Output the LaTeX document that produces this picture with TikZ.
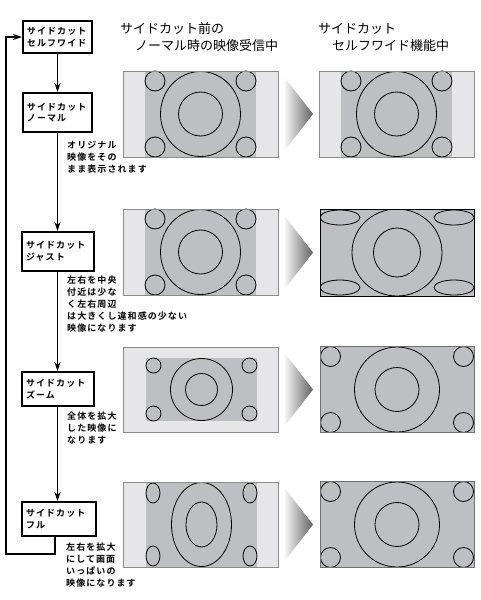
\documentclass[tikz,border=0pt]{standalone}
\usepackage{fontspec}
\setmainfont{Noto Sans CJK JP}[BoldFont={Noto Sans CJK JP Bold}]
\newfontfamily\spacedbold{Noto Sans CJK JP Bold}[LetterSpace=12]
\usetikzlibrary{arrows.meta}
\definecolor{scrlight}{RGB}{230,230,232}
\definecolor{scrgray}{RGB}{190,191,194}
\definecolor{scredge}{RGB}{140,140,140}
\tikzset{
  ring/.style={draw=black, line width=0.8pt},
  stepbox/.style={draw, line width=2pt, inner xsep=4pt, inner ysep=0pt, align=left,
    font=\spacedbold\fontsize{9}{11.5}\selectfont},
  conn/.style={line width=1.2pt},
  arr/.style={conn, -{Stealth[length=9pt,width=6pt]}},
  note/.style={anchor=north west, inner sep=0pt, align=left,
    font=\spacedbold\fontsize{9}{11.8}\selectfont},
  title/.style={anchor=base west, inner sep=0pt, font=\fontsize{13}{15}\selectfont},
  wedge/.style={left color=white!96!black, right color=black!62}
}
% pillar-box 4:3 picture
\newcommand\scrNormal[3]{%
\begin{scope}[shift={(#1,#2)}]
\fill[scrlight] (0,0) rectangle (155,86);
\fill[scrgray] (22,0) rectangle (133,86);
\draw[ring] (77.5,43) ellipse [x radius=40pt, y radius=42.5pt];
\draw[ring] (77.5,43) circle [radius=22pt];
\draw[ring] (32,10) circle [radius=10pt];
\draw[ring] (123,10) circle [radius=10pt];
\draw[ring] (32,76) circle [radius=10pt];
\draw[ring] (123,76) circle [radius=10pt];
\draw[draw=#3, line width=1pt] (0,0) rectangle (155,86);
\end{scope}}
% just: stretched sides
\newcommand\scrJust[2]{%
\begin{scope}[shift={(#1,#2)}]
\fill[scrgray] (0,0) rectangle (154,87);
\begin{scope}
\clip (0,0) rectangle (154,87);
\draw[ring] (77,43.5) ellipse [x radius=45pt, y radius=43.5pt];
\draw[ring] (77,43.5) ellipse [x radius=23.5pt, y radius=24.5pt];
\draw[ring] (20,8.5) ellipse [x radius=20pt, y radius=7.5pt];
\draw[ring] (134,8.5) ellipse [x radius=20pt, y radius=7.5pt];
\draw[ring] (20,78.5) ellipse [x radius=20pt, y radius=7.5pt];
\draw[ring] (134,78.5) ellipse [x radius=20pt, y radius=7.5pt];
\end{scope}
\draw[black, line width=1pt] (0,0) rectangle (154,87);
\end{scope}}
% letter/window boxed small picture
\newcommand\scrZoom[2]{%
\begin{scope}[shift={(#1,#2)}]
\fill[scrlight] (0,0) rectangle (155,85);
\fill[scrgray] (23,11) rectangle (134,74);
\draw[ring] (78.5,42.5) circle [radius=31pt];
\draw[ring] (78.5,42.5) circle [radius=16pt];
\draw[ring] (30.5,18.5) circle [radius=7.5pt];
\draw[ring] (126.5,18.5) circle [radius=7.5pt];
\draw[ring] (30.5,66.5) circle [radius=7.5pt];
\draw[ring] (126.5,66.5) circle [radius=7.5pt];
\draw[draw=scredge, line width=1pt] (0,0) rectangle (155,85);
\end{scope}}
% full-screen result
\newcommand\scrFull[2]{%
\begin{scope}[shift={(#1,#2)}]
\fill[scrgray] (0,0) rectangle (154,86);
\draw[ring] (77,43) circle [radius=42.5pt];
\draw[ring] (77,43) circle [radius=22pt];
\draw[ring] (10.5,10) circle [radius=10pt];
\draw[ring] (143.5,10) circle [radius=10pt];
\draw[ring] (10.5,76) circle [radius=10pt];
\draw[ring] (143.5,76) circle [radius=10pt];
\draw[draw=scredge!80!black, line width=1pt] (0,0) rectangle (154,86);
\end{scope}}
% squeezed (tall) picture
\newcommand\scrTall[2]{%
\begin{scope}[shift={(#1,#2)}]
\fill[scrlight] (0,0) rectangle (155,85);
\fill[scrgray] (23,0) rectangle (134,85);
\draw[ring] (78.5,42.5) ellipse [x radius=30pt, y radius=42pt];
\draw[ring] (78.5,42.5) ellipse [x radius=15.5pt, y radius=22.5pt];
\draw[ring] (30,11) ellipse [x radius=7pt, y radius=10pt];
\draw[ring] (127,11) ellipse [x radius=7pt, y radius=10pt];
\draw[ring] (30,74) ellipse [x radius=7pt, y radius=10pt];
\draw[ring] (127,74) ellipse [x radius=7pt, y radius=10pt];
\draw[draw=scredge, line width=1pt] (0,0) rectangle (155,85);
\end{scope}}
\newcommand\wedgeAt[1]{%
\shade[wedge] (285,#1-36) -- (313,#1) -- (285,#1+36) -- cycle;}

\begin{document}
\begin{tikzpicture}[x=1pt, y=-1pt]
\useasboundingbox (0,0) rectangle (480,600);
\fill[white] (0,0) rectangle (480,600);

% titles
\node[title] (t1) at (120,33) {サイドカット前の};
\node[title] (t2) at (135,50) {ノーマル時の映像受信中};
\node[title] (t3) at (318,33) {サイドカット};
\node[title] (t4) at (332,50) {セルフワイド機能中};

% mode boxes
\node[stepbox, text width=61pt, minimum height=32pt] (b1) at (57.5,37) {サイドカット\\セルフワイド};
\node[stepbox, text width=61pt, minimum height=39pt] (b2) at (57.5,112.5) {サイドカット\\ノーマル};
\node[stepbox, text width=64pt, minimum height=39pt] (b3) at (58,251.5) {サイドカット\\ジャスト};
\node[stepbox, text width=64pt, minimum height=34pt] (b4) at (58,389) {サイドカット\\ズーム};
\node[stepbox, text width=66pt, minimum height=34pt] (b5) at (59,519) {サイドカット\\フル};

% connectors
\draw[arr] (b1.south) -- (b1.south |- b2.north);
\draw[arr] (b2.south) -- (b2.south |- b3.north);
\draw[arr] (b3.south -| b2.south) -- (b2.south |- b4.north);
\draw[arr] (b4.south -| b2.south) -- (b2.south |- b5.north);
\coordinate (fbA) at (55,554);
\coordinate (fbB) at (6,554);
\draw[arr] (b5.south -| fbA) -- (fbA) -- (fbB) |- (b1.west);

% notes
\node[note] (n1) at (67,141) {オリジナル\\映像をその\\まま表示されます};
\node[note] (n2) at (67,276) {左右を中央\\付近は少な\\く左右周辺\\は大きくし違和感の少ない\\映像になります};
\node[note] (n3) at (67,412) {全体を拡大\\した映像に\\なります};
\node[note] (n4) at (66,543) {左右を拡大\\にして画面\\いっぱいの\\映像になります};

% screens
\scrNormal{123}{71}{scredge}
\scrNormal{319}{71}{scredge}
\wedgeAt{114}

\scrNormal{123}{209}{scredge}
\scrJust{320}{209}
\wedgeAt{252.5}

\scrZoom{123}{347}
\scrFull{320}{346.5}
\wedgeAt{389.5}

\scrTall{123}{482}
\scrFull{320}{481.5}
\wedgeAt{524.5}
\end{tikzpicture}
\end{document}
